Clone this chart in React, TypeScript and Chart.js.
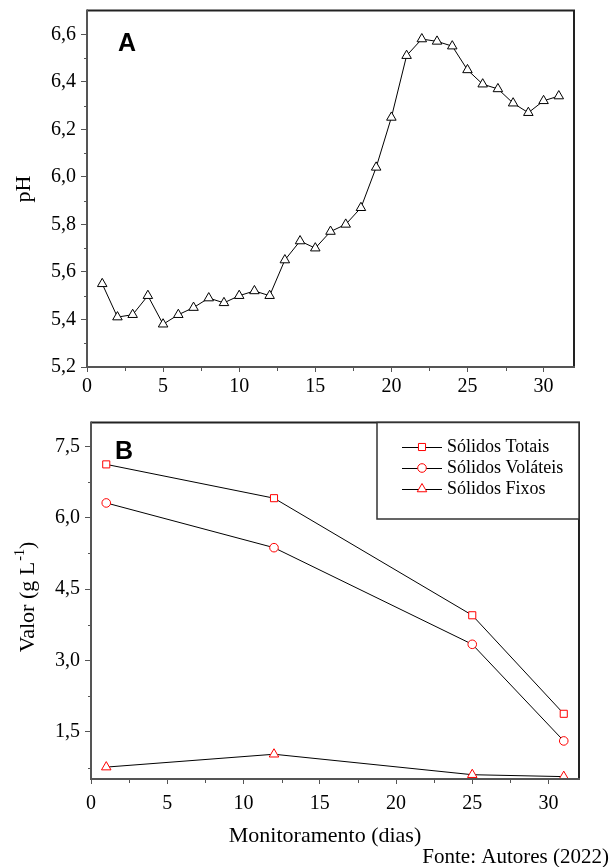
import React, { useEffect, useRef } from 'react';
import { Chart, registerables } from 'chart.js';

Chart.register(...registerables);

// ---------- data ----------
const phDays = [1, 2, 3, 4, 5, 6, 7, 8, 9, 10, 11, 12, 13, 14, 15, 16, 17, 18, 19, 20, 21, 22, 23, 24, 25, 26, 27, 28, 29, 30, 31];
const phValues = [5.55, 5.41, 5.42, 5.5, 5.38, 5.42, 5.45, 5.49, 5.47, 5.5, 5.52, 5.5, 5.65, 5.73, 5.7, 5.77, 5.8, 5.87, 6.04, 6.25, 6.51, 6.58, 6.57, 6.55, 6.45, 6.39, 6.37, 6.31, 6.27, 6.32, 6.34];

const solidDays = [1, 12, 25, 31];
const solidosTotais = [7.12, 6.41, 3.95, 1.88];
const solidosVolateis = [6.31, 5.37, 3.34, 1.31];
const solidosFixos = [0.76, 1.03, 0.6, 0.56];

const seriesLabels = ['Sólidos Totais', 'Sólidos Voláteis', 'Sólidos Fixos'];

const xMinorTicks = [2.5, 7.5, 12.5, 17.5, 22.5, 27.5];
const phMinorTicks = [5.3, 5.5, 5.7, 5.9, 6.1, 6.3, 6.5];
const solidMinorTicks = [0.75, 2.25, 3.75, 5.25, 6.75];

const SERIF = '"Liberation Serif", "Times New Roman", serif';
const SANS = '"Liberation Sans", Arial, sans-serif';

const fmtComma = (v: any) => Number(v).toFixed(1).replace('.', ',');

// ---------- plugins ----------
const framePlugin = {
  id: 'frame',
  afterDraw(chart: any, _args: any, opts: any) {
    const { ctx, chartArea: a } = chart;
    ctx.save();
    // minor ticks
    ctx.strokeStyle = '#555';
    ctx.lineWidth = 1;
    const xs = chart.scales.x;
    const ys = chart.scales.y;
    (opts.minorX || []).forEach((v: number) => {
      const px = Math.round(xs.getPixelForValue(v)) + 0.5;
      ctx.beginPath();
      ctx.moveTo(px, a.bottom);
      ctx.lineTo(px, a.bottom + 4);
      ctx.stroke();
    });
    (opts.minorY || []).forEach((v: number) => {
      const py = Math.round(ys.getPixelForValue(v)) + 0.5;
      ctx.beginPath();
      ctx.moveTo(a.left, py);
      ctx.lineTo(a.left - 3, py);
      ctx.stroke();
    });
    // frame
    ctx.lineWidth = 2;
    ctx.strokeStyle = '#222';
    ctx.beginPath();
    ctx.moveTo(a.left, a.top);
    ctx.lineTo(a.right, a.top);
    ctx.lineTo(a.right, a.bottom);
    ctx.stroke();
    ctx.strokeStyle = '#555';
    ctx.beginPath();
    ctx.moveTo(a.left, a.top - 1);
    ctx.lineTo(a.left, a.bottom);
    ctx.lineTo(a.right + 1, a.bottom);
    ctx.stroke();

    // panel letter
    if (opts.letter) {
      ctx.fillStyle = '#000';
      ctx.font = 'bold 25px ' + SANS;
      ctx.textAlign = 'center';
      ctx.textBaseline = 'middle';
      ctx.fillText(opts.letter.text, opts.letter.x, opts.letter.y);
    }
    // y title (rotated), with optional superscript
    if (opts.yTitle) {
      const t = opts.yTitle;
      ctx.save();
      ctx.translate(t.x, t.y);
      ctx.rotate(-Math.PI / 2);
      ctx.fillStyle = '#000';
      ctx.textBaseline = 'middle';
      ctx.textAlign = 'left';
      const mainFont = '22px ' + SERIF;
      const supFont = '14px ' + SERIF;
      ctx.font = mainFont;
      const w1 = ctx.measureText(t.main).width;
      const w3 = t.after ? ctx.measureText(t.after).width : 0;
      ctx.font = supFont;
      const w2 = t.sup ? ctx.measureText(t.sup).width + 1 : 0;
      let x0 = -(w1 + w2 + w3) / 2;
      ctx.font = mainFont;
      ctx.fillText(t.main, x0, 0);
      x0 += w1;
      if (t.sup) {
        ctx.font = supFont;
        ctx.fillText(t.sup, x0 + 1, -8);
        x0 += w2;
      }
      if (t.after) {
        ctx.font = mainFont;
        ctx.fillText(t.after, x0, 0);
      }
      ctx.restore();
    }
    if (opts.xTitle) {
      ctx.fillStyle = '#000';
      ctx.font = '22px ' + SERIF;
      ctx.textAlign = 'center';
      ctx.textBaseline = 'alphabetic';
      ctx.fillText(opts.xTitle.text, opts.xTitle.x, opts.xTitle.y);
    }
    if (opts.source) {
      ctx.fillStyle = '#000';
      ctx.font = '21px ' + SERIF;
      ctx.textAlign = 'right';
      ctx.textBaseline = 'alphabetic';
      ctx.fillText(opts.source.text, opts.source.x, opts.source.y);
    }
    ctx.restore();
  },
};

const boxLegendPlugin = {
  id: 'boxLegend',
  afterDraw(chart: any, _args: any, opts: any) {
    if (!opts || !opts.show) return;
    const { ctx, chartArea: a } = chart;
    const left = opts.left;
    const top = a.top;
    const right = a.right;
    const bottom = opts.bottom;
    ctx.save();
    ctx.fillStyle = '#fff';
    ctx.fillRect(left, top, right - left, bottom - top);
    ctx.strokeStyle = '#333';
    ctx.lineWidth = 1.5;
    ctx.strokeRect(left, top, right - left, bottom - top);
    chart.data.datasets.forEach((ds: any, i: number) => {
      const y = opts.rows[i];
      const lx0 = opts.lineStart;
      const lx1 = opts.lineEnd;
      const mx = (lx0 + lx1) / 2;
      ctx.strokeStyle = '#000';
      ctx.lineWidth = 1;
      ctx.beginPath();
      ctx.moveTo(lx0, y + 0.5);
      ctx.lineTo(lx1, y + 0.5);
      ctx.stroke();
      // marker
      ctx.fillStyle = '#fff';
      ctx.strokeStyle = ds.pointBorderColor;
      ctx.lineWidth = 1;
      ctx.beginPath();
      const r = ds.pointRadius;
      if (ds.pointStyle === 'rect') {
        const s = r * Math.SQRT1_2;
        ctx.rect(mx - s, y - s, 2 * s, 2 * s);
      } else if (ds.pointStyle === 'circle') {
        ctx.arc(mx, y, r, 0, Math.PI * 2);
      } else {
        const tri = Math.PI * 2 / 3;
        let rad = 0;
        ctx.moveTo(mx + Math.sin(rad) * r, y - Math.cos(rad) * r);
        rad += tri;
        ctx.lineTo(mx + Math.sin(rad) * r, y - Math.cos(rad) * r);
        rad += tri;
        ctx.lineTo(mx + Math.sin(rad) * r, y - Math.cos(rad) * r);
        ctx.closePath();
      }
      ctx.fill();
      ctx.stroke();
      ctx.fillStyle = '#000';
      ctx.font = '18px ' + SERIF;
      ctx.textAlign = 'left';
      ctx.textBaseline = 'middle';
      ctx.fillText(ds.label, opts.textX, y);
    });
    ctx.restore();
  },
};

const zeroPad = (s: any) => {
  s.paddingTop = 0;
  s.paddingBottom = 0;
  s.paddingLeft = 0;
  s.paddingRight = 0;
};

const tickFont = { family: SERIF, size: 20 };

export default function App() {
  const topRef = useRef<HTMLCanvasElement>(null);
  const botRef = useRef<HTMLCanvasElement>(null);

  useEffect(() => {
    const c1 = new Chart(topRef.current as HTMLCanvasElement, {
      type: 'line',
      data: {
        datasets: [
          {
            label: 'pH',
            data: phDays.map((d, i) => ({ x: d, y: phValues[i] })),
            borderColor: '#000',
            borderWidth: 1,
            pointStyle: 'triangle',
            pointRadius: 5.5,
            pointBorderColor: '#000',
            pointBackgroundColor: '#fff',
            pointBorderWidth: 1,
            tension: 0,
            clip: false as any,
          },
        ],
      },
      options: {
        responsive: false,
        animation: false,
        events: [],
        layout: { padding: { top: 10.5, right: 37, left: 0, bottom: 0 } },
        plugins: {
          legend: { display: false },
          tooltip: { enabled: false },
          frame: {
            minorX: xMinorTicks,
            minorY: phMinorTicks,
            letter: { text: 'A', x: 127, y: 44 },
            yTitle: { main: 'pH', x: 24, y: 189 },
          },
        } as any,
        scales: {
          x: {
            type: 'linear',
            min: 0,
            max: 32,
            afterFit: (s: any) => { s.height = 43; zeroPad(s); },
            ticks: {
              stepSize: 5,
              includeBounds: false,
              autoSkip: false,
              maxRotation: 0,
              font: tickFont,
              color: '#000',
              padding: 3,
              callback: (v: any) => String(v),
            },
            grid: { drawOnChartArea: false, drawTicks: true, tickLength: 5, tickColor: '#555', tickWidth: 1 },
            border: { display: false },
          },
          y: {
            type: 'linear',
            min: 5.2,
            max: 6.7,
            afterFit: (s: any) => { s.width = 87; zeroPad(s); },
            ticks: {
              stepSize: 0.2,
              includeBounds: false,
              autoSkip: false,
              font: tickFont,
              color: '#000',
              padding: 5,
              callback: fmtComma,
            },
            grid: { drawOnChartArea: false, drawTicks: true, tickLength: 6, tickColor: '#555', tickWidth: 1 },
            border: { display: false },
          },
        },
      } as any,
      plugins: [framePlugin],
    });

    const mk = (label: string, values: number[], style: string, r: number) => ({
      label,
      data: solidDays.map((d, i) => ({ x: d, y: values[i] })),
      borderColor: '#000',
      borderWidth: 1,
      pointStyle: style,
      pointRadius: r,
      pointBorderColor: '#ff0000',
      pointBackgroundColor: '#fff',
      pointBorderWidth: 1,
      tension: 0,
      clip: false as any,
    });

    const c2 = new Chart(botRef.current as HTMLCanvasElement, {
      type: 'line',
      data: {
        datasets: [
          mk(seriesLabels[0], solidosTotais, 'rect', 5),
          mk(seriesLabels[1], solidosVolateis, 'circle', 4.3),
          mk(seriesLabels[2], solidosFixos, 'triangle', 5.5),
        ] as any,
      },
      options: {
        responsive: false,
        animation: false,
        events: [],
        layout: { padding: { top: 12.5, right: 32, left: 0, bottom: 0 } },
        plugins: {
          legend: { display: false },
          tooltip: { enabled: false },
          frame: {
            minorX: xMinorTicks,
            minorY: solidMinorTicks,
            letter: { text: 'B', x: 124, y: 42 },
            yTitle: { main: 'Valor (g L', sup: '-1', after: ')', x: 28, y: 187 },
            xTitle: { text: 'Monitoramento (dias)', x: 325, y: 432 },
            source: { text: 'Fonte: Autores (2022)', x: 609, y: 453 },
          },
          boxLegend: {
            show: true,
            left: 377,
            bottom: 109,
            rows: [37, 58, 79],
            lineStart: 402,
            lineEnd: 442,
            textX: 447,
          },
        } as any,
        scales: {
          x: {
            type: 'linear',
            min: 0,
            max: 32,
            afterFit: (s: any) => { s.height = 88; zeroPad(s); },
            ticks: {
              stepSize: 5,
              includeBounds: false,
              autoSkip: false,
              maxRotation: 0,
              font: tickFont,
              color: '#000',
              padding: 8,
              callback: (v: any) => String(v),
            },
            grid: { drawOnChartArea: false, drawTicks: true, tickLength: 5, tickColor: '#555', tickWidth: 1 },
            border: { display: false },
          },
          y: {
            type: 'linear',
            min: 0.51,
            max: 8,
            afterFit: (s: any) => { s.width = 91; zeroPad(s); },
            ticks: {
              stepSize: 1.5,
              includeBounds: false,
              autoSkip: false,
              font: tickFont,
              color: '#000',
              padding: 5,
              callback: fmtComma,
            },
            grid: { drawOnChartArea: false, drawTicks: true, tickLength: 6, tickColor: '#555', tickWidth: 1 },
            border: { display: false },
          },
        },
      } as any,
      plugins: [framePlugin, boxLegendPlugin],
    });

    return () => {
      c1.destroy();
      c2.destroy();
    };
  }, []);

  return (
    <div style={{ position: 'absolute', left: 0, top: 0, width: 611, height: 867, background: '#fff' }}>
      <canvas ref={topRef} width={611} height={410} style={{ position: 'absolute', left: 0, top: 0, display: 'block' }} />
      <canvas ref={botRef} width={611} height={457} style={{ position: 'absolute', left: 0, top: 410, display: 'block' }} />
    </div>
  );
}
